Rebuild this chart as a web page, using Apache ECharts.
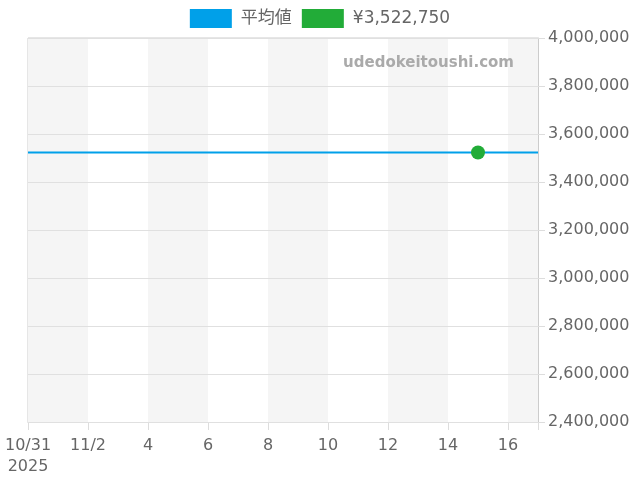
<!DOCTYPE html>
<html>
<head>
<meta charset="utf-8">
<script src="https://cdn.jsdelivr.net/npm/echarts@6/dist/echarts.min.js"></script>
<style>
html,body{margin:0;padding:0;background:#fff;}
#c{width:640px;height:480px;}
</style>
</head>
<body>
<div id="c"></div>
<script>
// ---- data ----
const startDate = '2025-10-31';
const endDate = '2025-11-17';
const xTickLabels = ['10/31\n2025', '11/2', '4', '6', '8', '10', '12', '14', '16'];
const avgName = '平均値';
const avgValue = 3522750;
const pointName = '¥3,522,750';
const pointDates = ['2025-11-15'];
const pointValues = [3522750];
const yMin = 2400000;
const yMax = 4000000;
const yStep = 200000;
const watermark = 'udedokeitoushi.com';

// ---- helpers ----
const DAY = 86400000;
function dayOffset(d) { return (Date.parse(d) - Date.parse(startDate)) / DAY; }
const xMax = dayOffset(endDate);

const chart = echarts.init(document.getElementById('c'), null, { renderer: 'canvas' });
const font = 'DejaVu Sans, "Noto Sans CJK JP", sans-serif';

chart.setOption({
  animation: false,
  textStyle: { fontFamily: font },
  legend: {
    top: 4,
    left: 'center',
    icon: 'rect',
    itemWidth: 42,
    itemHeight: 19,
    itemGap: 10,
    textStyle: { fontSize: 17, color: '#666', fontFamily: font, padding: [0, 0, 0, 4] },
    data: [avgName, pointName]
  },
  grid: {
    left: 28, right: 102, top: 38, bottom: 58,
    show: true, borderColor: '#ccc', borderWidth: 1, backgroundColor: 'transparent'
  },
  graphic: [{
    type: 'text',
    right: 126,
    top: 56,
    style: {
      text: watermark,
      fill: '#aaa',
      font: 'bold 15px DejaVu Sans, sans-serif'
    },
    z: 10
  }],
  xAxis: {
    type: 'value',
    min: 0,
    max: xMax,
    interval: 2,
    axisLine: { show: true, onZero: false, lineStyle: { color: '#ccc' } },
    axisTick: { show: true, length: 8, lineStyle: { color: '#ddd' } },
    axisLabel: {
      color: '#666', fontSize: 16, margin: 13, lineHeight: 21,
      formatter: function (v) {
        const i = Math.round(v / 2);
        return (v % 2 === 0 && i < xTickLabels.length) ? xTickLabels[i] : '';
      }
    },
    splitLine: { show: false },
    splitArea: { show: true, areaStyle: { color: ['#f5f5f5', '#ffffff'] } }
  },
  yAxis: {
    type: 'value',
    position: 'right',
    min: yMin,
    max: yMax,
    interval: yStep,
    axisLine: { show: true, onZero: false, lineStyle: { color: '#ccc' } },
    axisTick: { show: true, length: 7, lineStyle: { color: '#ddd' } },
    axisLabel: {
      color: '#666', fontSize: 16, margin: 10,
      formatter: function (v) { return v.toLocaleString('en-US'); }
    },
    splitLine: { show: true, lineStyle: { color: '#e0e0e0' } },
    z: 1
  },
  series: [
    {
      name: avgName,
      type: 'line',
      color: '#00a0e9',
      showSymbol: false,
      lineStyle: { width: 2, color: '#00a0e9' },
      data: [[0, avgValue], [xMax, avgValue]],
      z: 2
    },
    {
      name: pointName,
      type: 'scatter',
      color: '#22ac38',
      symbolSize: 14,
      itemStyle: { color: '#22ac38', opacity: 1 },
      data: pointDates.map((d, i) => [dayOffset(d), pointValues[i]]),
      z: 3
    }
  ]
});
</script>
</body>
</html>
